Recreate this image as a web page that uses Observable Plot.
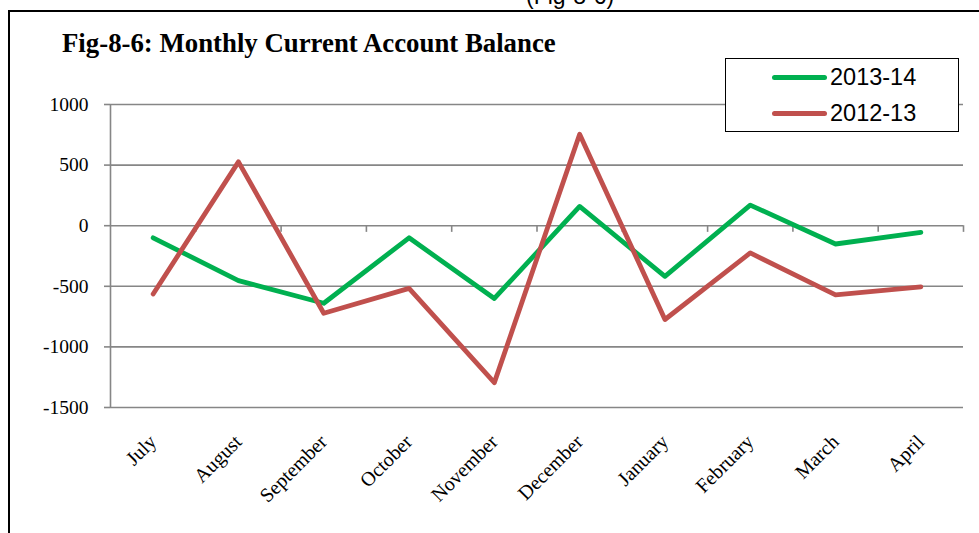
<!DOCTYPE html>
<html>
<head>
<meta charset="utf-8">
<script src="https://cdn.jsdelivr.net/npm/d3@7"></script>
<script src="https://cdn.jsdelivr.net/npm/@observablehq/plot@0.6"></script>
<style>
  html, body { margin: 0; padding: 0; background: #fff; overflow: hidden; }
  #wrap { position: relative; width: 979px; height: 533px; overflow: hidden; background: #fff; }
  #frame { position: absolute; left: 8px; top: 10px; width: 1200px; height: 800px; border: 2px solid #000; box-sizing: border-box; }
  #chart { position: absolute; left: 0; top: 0; }
  #toptext { position: absolute; left: 526px; top: -15px; line-height: 23px; font-family: "Liberation Sans", Arial, sans-serif; font-size: 23px; color: #000; white-space: nowrap; }
  #title { position: absolute; left: 62px; top: 28px; font-family: "Liberation Serif", "Times New Roman", serif; font-weight: bold; font-size: 26.8px; color: #000; white-space: nowrap; }
  #legend { position: absolute; left: 725px; top: 58px; width: 234px; height: 74px; box-sizing: border-box; border: 1.5px solid #000; background: #fff; }
  .lg { position: absolute; left: 46px; height: 20px; display: flex; align-items: center; font-family: "Liberation Sans", Arial, sans-serif; font-size: 23.5px; color: #000; }
  .lg span.sw { display: inline-block; width: 55px; height: 5px; border-radius: 3px; margin-right: 3px; }
</style>
</head>
<body>
<div id="wrap">
  <div id="toptext">(Fig-8-6)</div>
  <div id="frame"></div>
  <div id="chart"></div>
  <div id="title">Fig-8-6: Monthly Current Account Balance</div>
  <div id="legend"></div>
</div>
<script>
// ---- data ----
const months = ["July", "August", "September", "October", "November", "December", "January", "February", "March", "April"];
const series = ["2013-14", "2012-13"];
const fy2013_14 = [-100, -453, -640, -100, -600, 159, -418, 170, -151, -55];
const fy2012_13 = [-563, 527, -722, -517, -1295, 755, -774, -225, -571, -505];
const yTicks = [1000, 500, 0, -500, -1000, -1500];
const colors = {"2013-14": "#00B050", "2012-13": "#C0504D"};

const rows = [];
months.forEach((m, i) => rows.push({i, month: m, series: "2013-14", value: fy2013_14[i]}));
months.forEach((m, i) => rows.push({i, month: m, series: "2012-13", value: fy2012_13[i]}));

const serif = '"Liberation Serif", "Times New Roman", serif';
const grid = "#868686";

const chart = Plot.plot({
  width: 979,
  height: 533,
  marginLeft: 110,
  marginRight: 16,
  marginTop: 104,
  marginBottom: 126,
  style: {fontFamily: serif, background: "transparent", overflow: "visible"},
  x: {type: "linear", domain: [-0.5, months.length - 0.5]},
  y: {domain: [-1500, 1000]},
  marks: [
    Plot.ruleY(yTicks, {stroke: grid, strokeWidth: 1.6}),
    Plot.ruleX([-0.5], {y1: -1500, y2: 1000, stroke: grid, strokeWidth: 1.6}),
    Plot.ruleX(d3.range(0.5, months.length + 0.5, 1), {y1: 0, y2: -55, stroke: grid, strokeWidth: 1.6}),
    Plot.axisY(yTicks, {tickSize: 6, tickPadding: 16, tickFormat: d => String(d), stroke: grid, strokeWidth: 1.6, fill: "#000", fontSize: 19.5, fontFamily: serif, label: null}),
    Plot.axisX(d3.range(months.length), {anchor: "bottom", tickFormat: i => months[i], tickRotate: -45, tickSize: 0, tickPadding: 31, fill: "#000", fontSize: 20, fontFamily: serif, label: null}),
    Plot.line(rows.filter(d => d.series === "2013-14"), {x: "i", y: "value", stroke: colors["2013-14"], strokeWidth: 4.8, strokeLinecap: "round", strokeLinejoin: "round"}),
    Plot.line(rows.filter(d => d.series === "2012-13"), {x: "i", y: "value", stroke: colors["2012-13"], strokeWidth: 4.8, strokeLinecap: "round", strokeLinejoin: "round"})
  ]
});
document.getElementById("chart").appendChild(chart);

// legend
const legend = document.getElementById("legend");
series.forEach((s, k) => {
  const row = document.createElement("div");
  row.className = "lg";
  row.style.top = (k === 0 ? 8 : 44) + "px";
  const sw = document.createElement("span");
  sw.className = "sw";
  sw.style.background = colors[s];
  row.appendChild(sw);
  row.appendChild(document.createTextNode(s));
  legend.appendChild(row);
});
</script>
</body>
</html>
